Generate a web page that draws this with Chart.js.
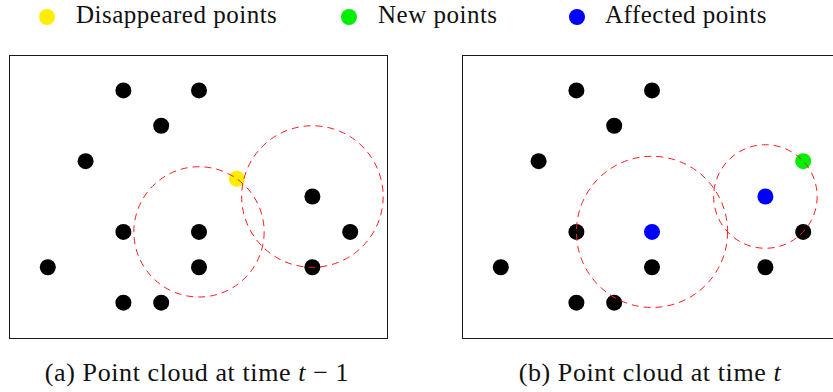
<!DOCTYPE html>
<html>
<head>
<meta charset="utf-8">
<script src="https://cdn.jsdelivr.net/npm/chart.js@4.4.1/dist/chart.umd.min.js"></script>
<style>
    html, body { margin: 0; padding: 0; width: 833px; height: 392px; overflow: hidden; background: #fff; }
    body { position: relative; font-family: 'Liberation Serif', 'DejaVu Serif', serif; color: #111; }
    .legend-dot { position: absolute; width: 16px; height: 16px; border-radius: 50%; top: 9px; }
    .legend-text { position: absolute; top: 2px; font-size: 25px; line-height: 25px; letter-spacing: 0.5px; white-space: nowrap; }
    .caption { position: absolute; top: 360px; width: 400px; text-align: center; font-size: 26px; line-height: 26px; letter-spacing: 0.6px; white-space: nowrap; }
    canvas { position: absolute; }
</style>
</head>
<body>
<div class="legend-dot" style="left:39px; background:#ffee00"></div>
<div class="legend-text" style="left:76px">Disappeared points</div>
<div class="legend-dot" style="left:341px; background:#00ee00"></div>
<div class="legend-text" style="left:378px">New points</div>
<div class="legend-dot" style="left:569px; background:#0000ff"></div>
<div class="legend-text" style="left:605px">Affected points</div>

<canvas id="prevChart" style="left:0px; top:45px; width:400px; height:305px" width="400" height="305"></canvas>
<canvas id="currChart" style="left:453px; top:45px; width:400px; height:305px" width="400" height="305"></canvas>

<div class="caption" style="left:-3px">(a) Point cloud at time <i>t</i> &minus; 1</div>
<div class="caption" style="left:450px">(b) Point cloud at time <i>t</i></div>

<script>
// point cloud at time t-1
const prevPoints = [[3, 7], [5, 7], [4, 6], [2, 5], [8, 4], [3, 3], [5, 3], [9, 3], [1, 2], [5, 2], [8, 2], [3, 1], [4, 1]];
const prevDisappeared = [[6, 4.5]];
// point cloud at time t
const currPoints = [[3, 7], [5, 7], [4, 6], [2, 5], [3, 3], [9, 3], [1, 2], [5, 2], [8, 2], [3, 1], [4, 1]];
const currNew = [[9, 5]];
const currAffected = [[8, 4], [5, 3]];
// neighbourhoods: centre and a point lying on the circle
const prevCircles = [{ center: [5, 3], through: [6, 4.5] }, { center: [8, 4], through: [8, 2] }];
const currCircles = [{ center: [5, 3], through: [3, 3] }, { center: [8, 4], through: [9, 5] }];

const toXY = arr => arr.map(([x, y]) => ({ x, y }));

// box round the plot area + dashed neighbourhood circles
const framePlugin = {
    id: 'frame',
    afterDatasetsDraw(chart, args, opts) {
        const { ctx, chartArea: a, scales: { x, y } } = chart;
        ctx.save();
        ctx.strokeStyle = '#1a1a1a';
        ctx.lineWidth = 1;
        ctx.strokeRect(Math.round(a.left) - 0.5, Math.round(a.top) + 0.5, a.right - a.left, a.bottom - a.top);
        ctx.strokeStyle = '#ff1a1a';
        ctx.setLineDash([7, 5]);
        (opts.circles || []).forEach(c => {
            const cx = x.getPixelForValue(c.center[0]);
            const cy = y.getPixelForValue(c.center[1]);
            const px = x.getPixelForValue(c.through[0]);
            const py = y.getPixelForValue(c.through[1]);
            ctx.beginPath();
            ctx.arc(cx, cy, Math.hypot(px - cx, py - cy), 0, Math.PI * 2);
            ctx.stroke();
        });
        ctx.restore();
    }
};

const makeChart = (id, sets, circles) => new Chart(document.getElementById(id), {
    type: 'scatter',
    data: {
        datasets: sets.map(s => ({
            label: s.label,
            data: toXY(s.data),
            backgroundColor: s.color,
            borderWidth: 0,
            pointRadius: 8,
            pointHoverRadius: 8
        }))
    },
    options: {
        responsive: false,
        animation: false,
        layout: { padding: { left: 10, top: 10, right: 12, bottom: 12 } },
        plugins: {
            legend: { display: false },
            tooltip: { enabled: false },
            frame: { circles }
        },
        scales: {
            x: { type: 'linear', min: 0, max: 10, display: false },
            y: { type: 'linear', min: 0, max: 8, display: false }
        }
    },
    plugins: [framePlugin]
});

makeChart('prevChart', [
    { label: 'Points', data: prevPoints, color: '#000' },
    { label: 'Disappeared points', data: prevDisappeared, color: '#ffee00' }
], prevCircles);

makeChart('currChart', [
    { label: 'Points', data: currPoints, color: '#000' },
    { label: 'New points', data: currNew, color: '#00ee00' },
    { label: 'Affected points', data: currAffected, color: '#0000ff' }
], currCircles);
</script>
</body>
</html>
